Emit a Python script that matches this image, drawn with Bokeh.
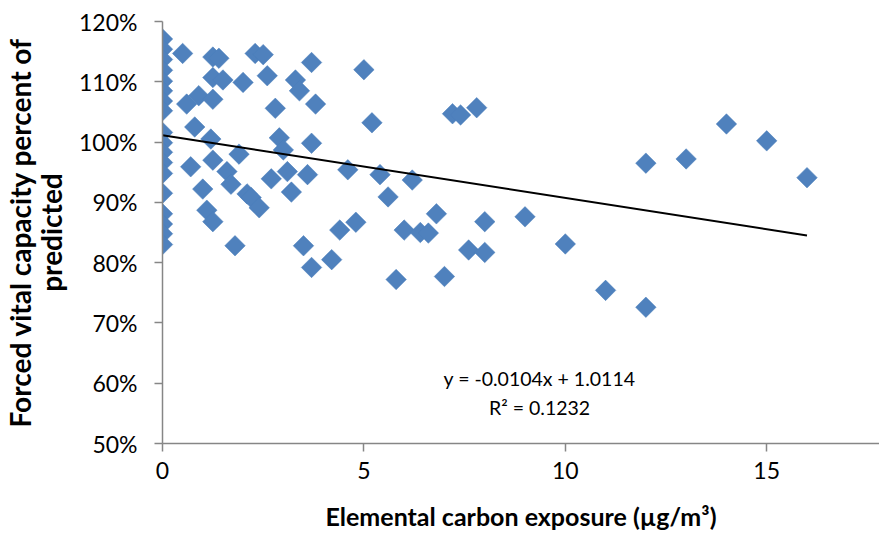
import numpy as np
from bokeh.plotting import figure
from bokeh.models import Range1d, FixedTicker, NumeralTickFormatter, Label, ColumnDataSource
from bokeh.embed import file_html
from bokeh.resources import INLINE

# Elemental carbon exposure (ug/m3)
ec_exposure = [
    0, 0, 0, 0, 0, 0, 0, 0, 0, 0, 0, 0, 0, 0, 0, 0, 0, 0,
    0.5, 1.25, 1.4, 2.3, 2.5, 3.7, 5.0, 1.25, 1.5, 2.0, 2.6, 3.3, 3.4,
    0.9, 0.6, 1.25, 2.8, 3.8, 5.2, 0.8, 1.2, 2.9, 3.0, 3.7, 1.9, 1.25,
    0.7, 1.6, 1.7, 2.7, 3.1, 3.6, 4.6, 1.0, 3.2, 2.1, 2.2, 2.4, 1.1,
    1.25, 1.8, 3.5, 4.4, 4.8, 3.7, 4.2,
    7.2, 7.4, 7.8, 5.4, 6.2, 5.6, 6.8, 6.0, 6.4, 6.6, 8.0, 9.0, 7.6,
    8.0, 10.0, 5.8, 7.0, 11.0, 12.0, 13.0, 14.0, 15.0, 16.0, 12.0,
]
# Forced vital capacity, fraction of predicted
fvc_pct_pred = [
    1.171, 1.154, 1.137, 1.119, 1.101, 1.085, 1.068, 1.052, 1.016, 0.999,
    0.983, 0.966, 0.948, 0.915, 0.881, 0.864, 0.848, 0.830,
    1.147, 1.141, 1.139, 1.147, 1.145, 1.132, 1.120, 1.107, 1.103, 1.099,
    1.110, 1.103, 1.085, 1.077, 1.063, 1.071, 1.056, 1.063, 1.032, 1.025,
    1.005, 1.007, 0.987, 0.998, 0.980, 0.970, 0.959, 0.951, 0.930, 0.939,
    0.951, 0.946, 0.954, 0.922, 0.917, 0.914, 0.908, 0.891, 0.887, 0.868,
    0.828, 0.828, 0.854, 0.867, 0.792, 0.805,
    1.047, 1.045, 1.057, 0.946, 0.937, 0.909, 0.881, 0.854, 0.850, 0.849,
    0.868, 0.876, 0.821, 0.817, 0.831, 0.772, 0.777, 0.754, 0.965, 0.972,
    1.030, 1.002, 0.941, 0.726,
]
trend_slope = -0.0104
trend_intercept = 1.0114
trend_eq_text = "y = -0.0104x + 1.0114"
trend_r2_text = "R\u00b2 = 0.1232"
x_ticks = [0, 5, 10, 15]
y_ticks = [0.5, 0.6, 0.7, 0.8, 0.9, 1.0, 1.1, 1.2]

FONT = "Lato"
AXIS_GRAY = "#868686"
BLUE = "#4F81BD"

p = figure(width=879, height=535, output_backend="svg", toolbar_location=None,
           x_range=Range1d(0, 17.8), y_range=Range1d(0.5, 1.2),
           min_border_left=162, min_border_top=21, min_border_bottom=92,
           min_border_right=0)
p.outline_line_color = None
p.grid.visible = False
p.background_fill_color = "white"
p.border_fill_color = "white"

src = ColumnDataSource(dict(x=ec_exposure, y=fvc_pct_pred))
p.scatter("x", "y", source=src, marker="square", angle=np.pi / 4, size=14.5,
          fill_color=BLUE, line_color="#4A7EBB", line_width=0.5)

tx = np.array([0.0, max(ec_exposure)])
p.line(tx, trend_intercept + trend_slope * tx, line_color="black", line_width=2)

p.xaxis.ticker = FixedTicker(ticks=x_ticks)
p.yaxis.ticker = FixedTicker(ticks=y_ticks)
p.yaxis.formatter = NumeralTickFormatter(format="0%")

for ax in (p.xaxis, p.yaxis):
    ax.axis_line_color = AXIS_GRAY
    ax.axis_line_width = 1.5
    ax.major_tick_line_color = AXIS_GRAY
    ax.major_tick_line_width = 1.5
    ax.major_tick_out = 8
    ax.major_tick_in = 0
    ax.minor_tick_line_color = None
    ax.major_label_text_font = FONT
    ax.major_label_text_font_size = "23px"
    ax.major_label_text_color = "black"
    ax.axis_label_text_font = FONT
    ax.axis_label_text_font_style = "bold"
    ax.axis_label_text_color = "black"

p.xaxis.axis_label = "Elemental carbon exposure (\u00b5g/m\u00b3)"
p.xaxis.axis_label_text_font_size = "25px"
p.xaxis.major_label_standoff = 10
p.xaxis.axis_label_standoff = 19
p.yaxis.axis_label = "Forced vital capacity percent of\npredicted"
p.yaxis.axis_label_text_font_size = "28px"
p.yaxis.axis_label_text_line_height = 0.9
p.yaxis.major_label_standoff = 17
p.yaxis.axis_label_standoff = 8

for txt, yy in ((trend_eq_text, 0.608), (trend_r2_text, 0.560)):
    p.add_layout(Label(x=9.36, y=yy, text=txt, text_align="center",
                       text_baseline="middle", text_font=FONT,
                       text_font_size="19.5px", text_color="black"))

open("out.html", "w").write(file_html(p, INLINE))
